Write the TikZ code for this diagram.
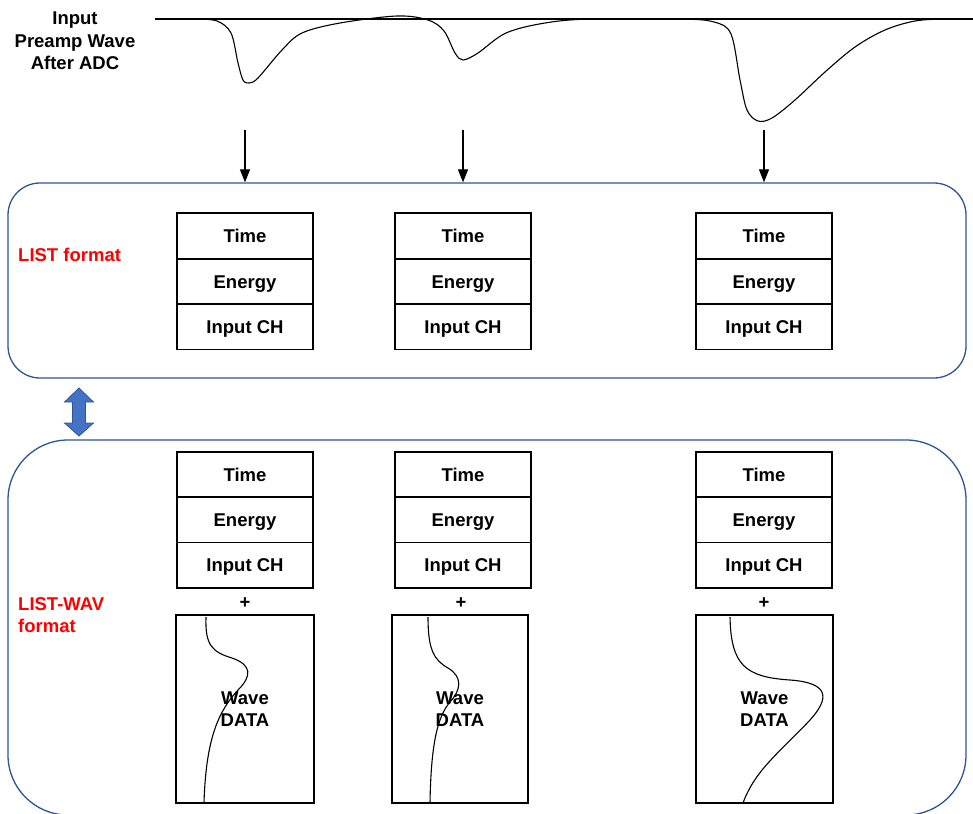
\documentclass[tikz,border=0pt]{standalone}
\usepackage{fontspec}
\setmainfont{Liberation Sans}
\usepackage{xcolor}
\usepackage{tikz}
\usetikzlibrary{arrows.meta}

\definecolor{frameblue}{RGB}{47,85,151}
\definecolor{arrowblue}{RGB}{68,114,196}

\begin{document}
\begin{tikzpicture}[x=1pt,y=-1pt,
  every node/.style={font=\fontsize{18.5}{22.5}\selectfont\bfseries,align=center},
  cell/.style={draw=black,line width=1.7pt,minimum width=136pt,minimum height=45.4pt,inner sep=0pt,text height=13.3pt,text depth=0pt},
  wavebox/.style={draw=black,line width=1.7pt,minimum height=188pt,inner sep=0pt},
  frame/.style={draw=frameblue,line width=1.3pt,inner sep=0pt},
  feed/.style={-{Triangle[length=13pt,width=10pt]},line width=1.2pt},
  trace/.style={line width=1.1pt,line join=round}]
\clip (0,0) rectangle (973,813);
\fill[white] (0,0) rectangle (973,813);

% input waveform
\node (inwave) at (75,41) {Input\\Preamp Wave\\After ADC};
\draw[line width=1.1pt] (155,19) -- (973,19);
\draw[trace] plot[smooth,tension=0.55] coordinates {(196,19) (217,21) (231,33) (238,63) (243,80) (249,83) (258,78) (282,50) (302,33) (340,23) (397,16) (428,20) (444,31) (455,53) (463,60) (478,53) (506,33) (545,23) (590,19) (680,19) (714,22) (731,34) (740,80) (747,110) (758,121) (772,118) (795,100) (825,72) (855,47) (885,30) (915,21) (945,19) (973,19)};

% LIST format
\node[frame,rounded corners=32pt,minimum width=958pt,minimum height=195pt] (listbox) at (487,280.5) {};
\node[text=red,anchor=west,inner sep=0pt] (listlbl) at (18,255) {LIST format};

\node[cell] (t1) at (245,236) {Time};
\node[cell] (e1) at (245,281.4) {Energy};
\node[cell] (c1) at (245,326.8) {Input CH};
\node[cell] (t2) at (463,236) {Time};
\node[cell] (e2) at (463,281.4) {Energy};
\node[cell] (c2) at (463,326.8) {Input CH};
\node[cell] (t3) at (764,236) {Time};
\node[cell] (e3) at (764,281.4) {Energy};
\node[cell] (c3) at (764,326.8) {Input CH};

\coordinate (a1) at (245,130);
\coordinate (a2) at (463,130);
\coordinate (a3) at (764,130);
\draw[feed] (a1) -- (a1 |- listbox.north);
\draw[feed] (a2) -- (a2 |- listbox.north);
\draw[feed] (a3) -- (a3 |- listbox.north);

% switch between the formats
\filldraw[fill=arrowblue,draw=frameblue,line width=0.8pt,line join=miter]
  (79,388) -- (93.5,402) -- (85.5,402) -- (85.5,423) -- (93.5,423) -- (79,436)
  -- (64.5,423) -- (72.5,423) -- (72.5,402) -- (64.5,402) -- cycle;

% LIST-WAV format
\node[frame,rounded corners=60pt,minimum width=958pt,minimum height=375pt] (wavbox) at (487,627.5) {};
\node[text=red,anchor=west,align=left,inner sep=0pt] (wavlbl) at (18,615) {LIST-WAV\\format};

\node[cell] (wt1) at (245,474.5) {Time};
\node[cell] (we1) at (245,519.9) {Energy};
\node[cell] (wc1) at (245,565.3) {Input CH};
\node[cell] (wt2) at (463,474.5) {Time};
\node[cell] (we2) at (463,519.9) {Energy};
\node[cell] (wc2) at (463,565.3) {Input CH};
\node[cell] (wt3) at (764,474.5) {Time};
\node[cell] (we3) at (764,519.9) {Energy};
\node[cell] (wc3) at (764,565.3) {Input CH};

\node (plus1) at (245,603) {+};
\node (plus2) at (461,603) {+};
\node (plus3) at (764,603) {+};

\node[wavebox,minimum width=138pt] (w1) at (245,709) {Wave\\DATA};
\node[wavebox,minimum width=136pt] (w2) at (460,709) {Wave\\DATA};
\node[wavebox,minimum width=137pt] (w3) at (764.5,709) {Wave\\DATA};

\draw[trace] (206,617) .. controls (205,645) and (212,652) .. (232,658)
  .. controls (252,665) and (252,676) .. (238,690)
  .. controls (220,710) and (206,735) .. (204,803);
\draw[trace] (428,617) .. controls (428,650) and (434,660) .. (448,668)
  .. controls (463,677) and (461,690) .. (450,702)
  .. controls (438,716) and (431,742) .. (430,803);
\draw[trace] (730,617) .. controls (731,665) and (745,677) .. (790,680)
  .. controls (832,683) and (828,700) .. (810,720)
  .. controls (780,752) and (755,770) .. (743,803);
\end{tikzpicture}
\end{document}
